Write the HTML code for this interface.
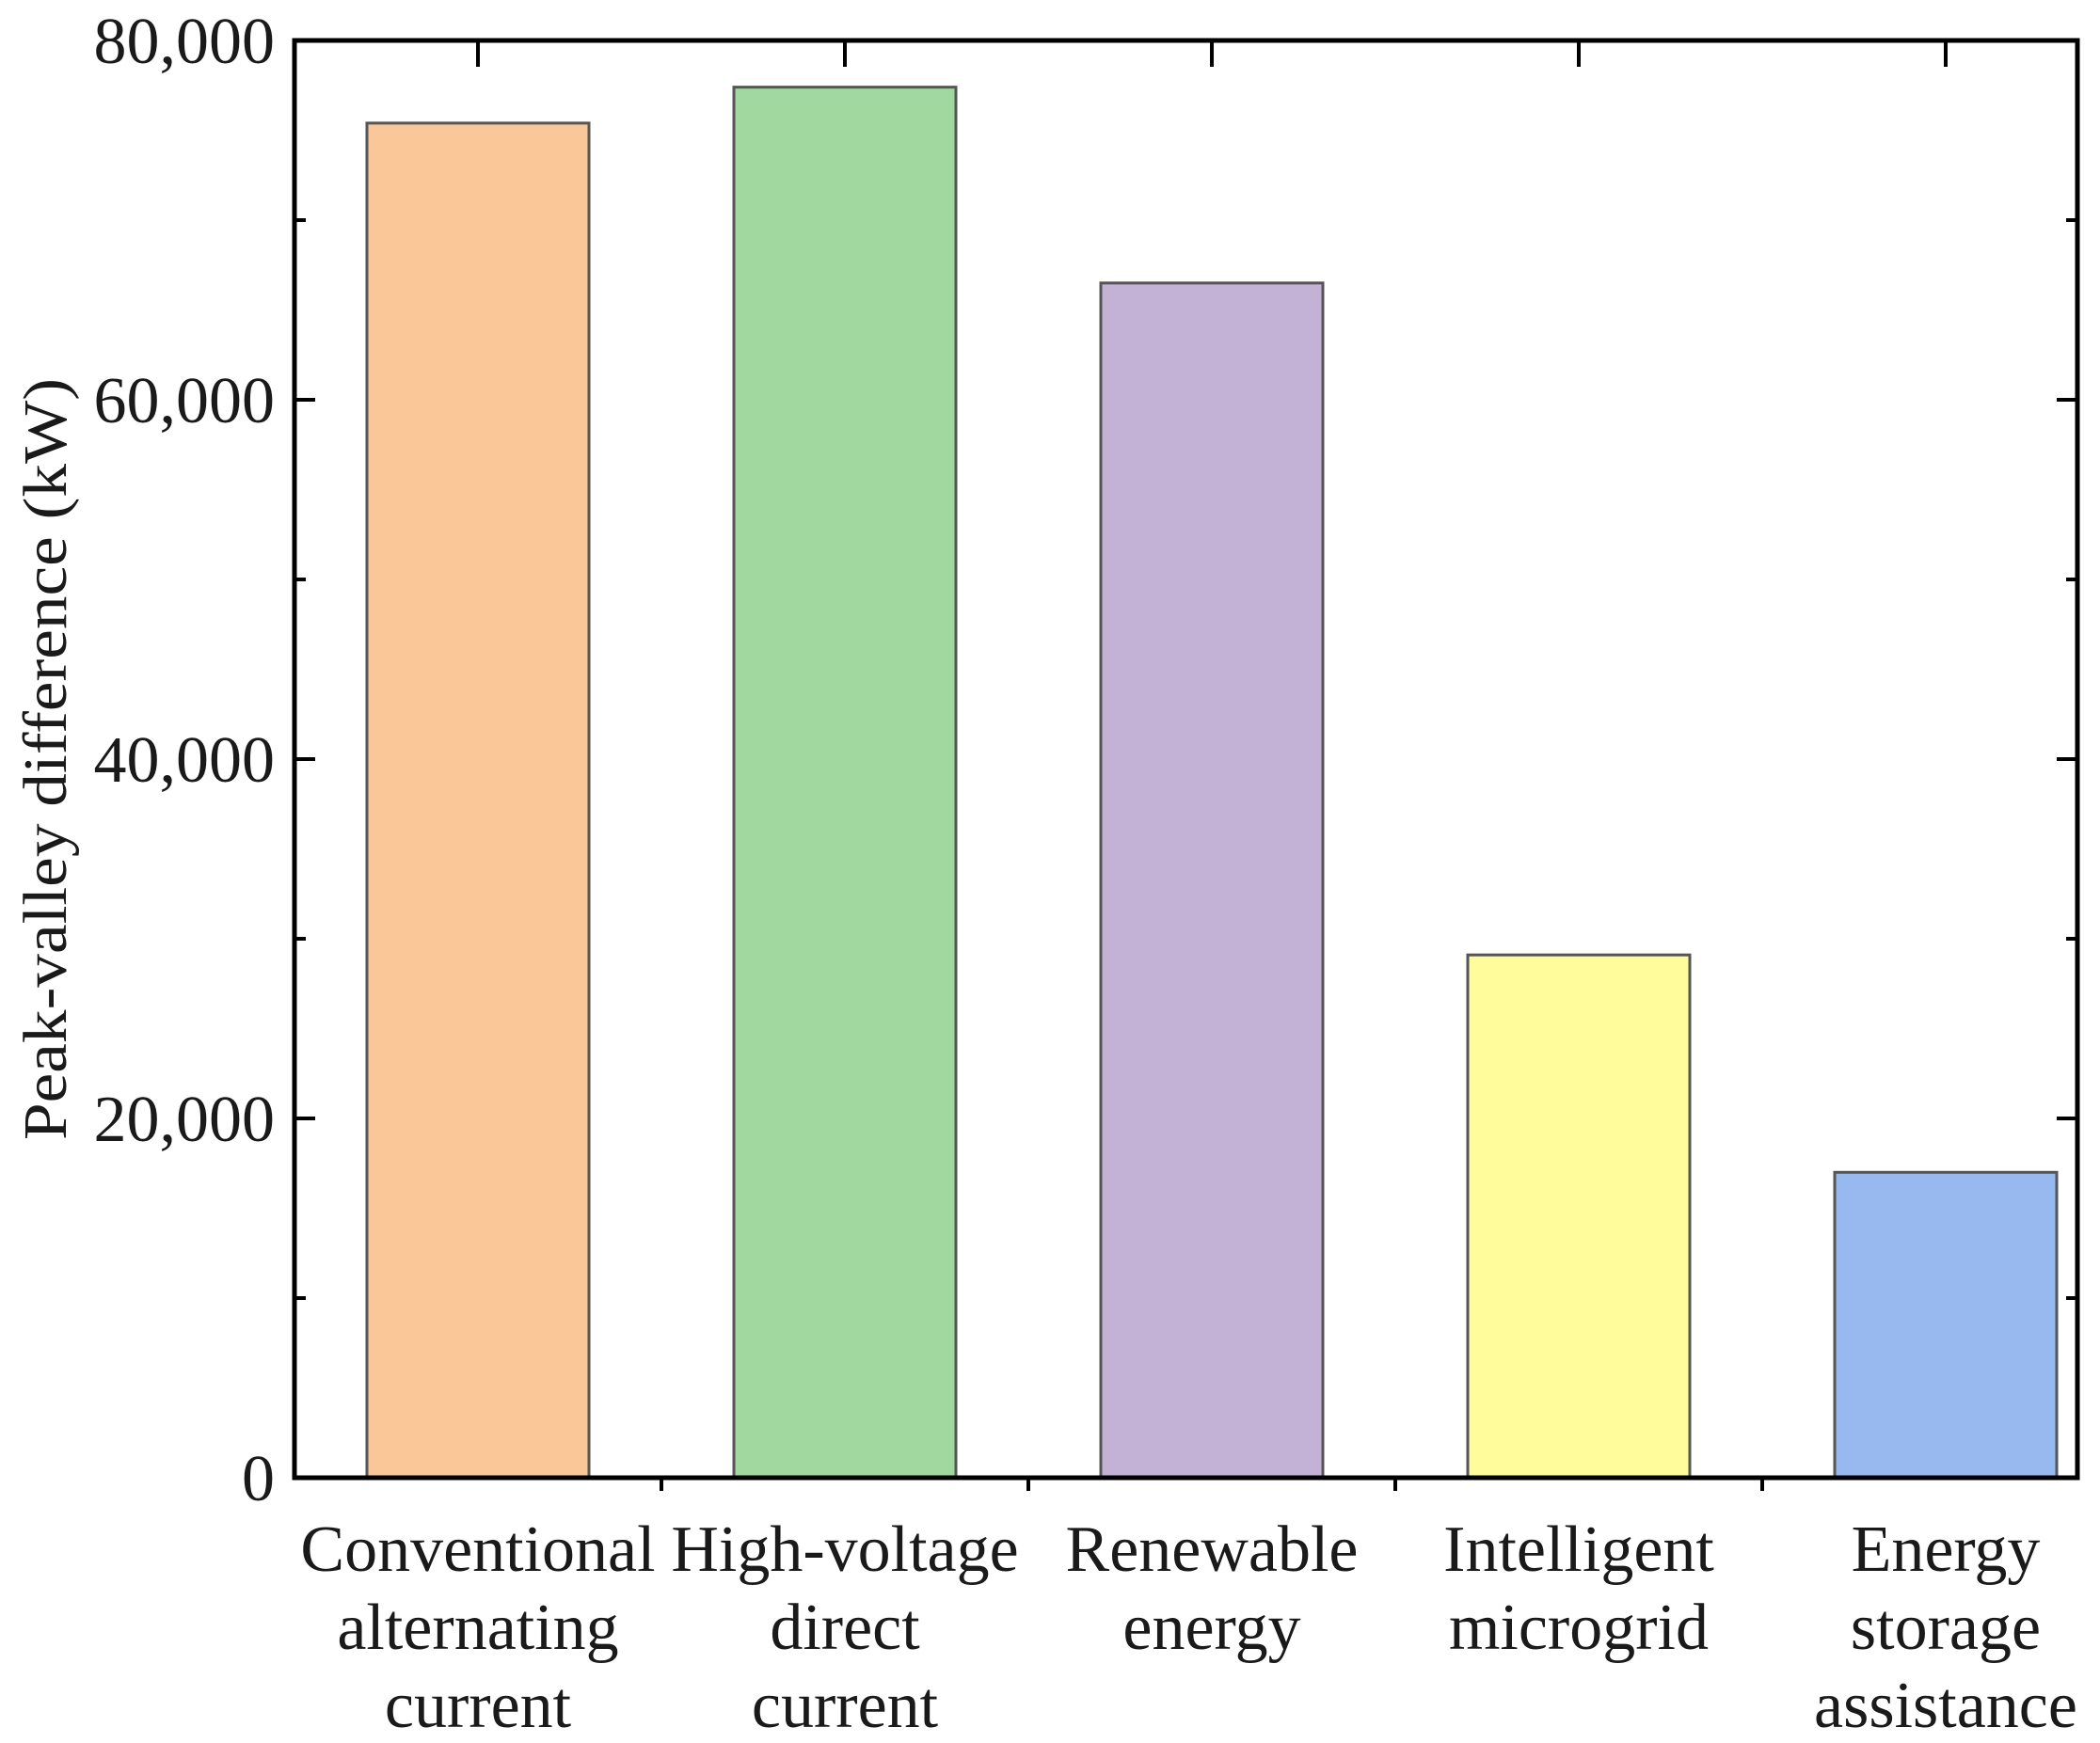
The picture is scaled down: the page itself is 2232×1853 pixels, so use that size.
<!DOCTYPE html>
<html><head><meta charset="utf-8"><style>
html,body{margin:0;padding:0;background:#fff;}
svg{display:block;font-family:"Liberation Serif",serif;}
</style></head><body>
<svg id="chart" width="2232" height="1853" viewBox="0 0 2232 1853"></svg>
<script>
const categories = [["Conventional","alternating","current"],["High-voltage","direct","current"],["Renewable","energy"],["Intelligent","microgrid"],["Energy","storage","assistance"]];
const values = [75400, 77400, 66500, 29100, 17000];
const colors = ["#FAC898","#A0D8A0","#C3B1D6","#FFFC9C","#98B8F0"];
const yTicks = [0, 20000, 40000, 60000, 80000];
const yTickLabels = ["0","20,000","40,000","60,000","80,000"];
const yMinor = [10000, 30000, 50000, 70000];

const NS="http://www.w3.org/2000/svg";
const svg=document.getElementById('chart');
const L=313,R=2208,T=43,B=1571;
const y=v=>B-(v/80000)*(B-T);
const x=i=>508+390*i;
const bw=236;
function mk(t,a){const e=document.createElementNS(NS,t);for(const k in a)e.setAttribute(k,a[k]);svg.appendChild(e);return e;}

values.forEach((v,i)=>{
  const r=mk('rect',{x:x(i)-bw/2,y:y(v),width:bw,height:B-y(v),fill:colors[i],stroke:'#555',"stroke-width":3});
  
  
  categories[i].forEach((line,j)=>{
    const t=mk('text',{x:x(i),y:1670+83*j,"text-anchor":"middle","font-size":70,fill:'#1a1a1a'});
    t.textContent=line;
    
    
  });
});
yTicks.forEach((v,i)=>{
  mk('line',{x1:L,x2:L+22,y1:y(v),y2:y(v),stroke:'#000',"stroke-width":4});
  mk('line',{x1:R,x2:R-22,y1:y(v),y2:y(v),stroke:'#000',"stroke-width":4});
  const t=mk('text',{x:292,y:y(v)+24,"text-anchor":"end","font-size":70,fill:'#1a1a1a'});
  t.textContent=yTickLabels[i];
  
  
});
yMinor.forEach(v=>{
  mk('line',{x1:L,x2:L+12,y1:y(v),y2:y(v),stroke:'#000',"stroke-width":4});
  mk('line',{x1:R,x2:R-12,y1:y(v),y2:y(v),stroke:'#000',"stroke-width":4});
});
values.forEach((v,i)=>{
  mk('line',{x1:x(i),x2:x(i),y1:T,y2:T+28,stroke:'#000',"stroke-width":4});
  if(i<values.length-1) mk('line',{x1:x(i)+195,x2:x(i)+195,y1:B,y2:B+14,stroke:'#000',"stroke-width":4});
});
const frame=mk('rect',{x:L,y:T,width:R-L,height:B-T,fill:'none',stroke:'#000',"stroke-width":5});


const yl=mk('text',{x:0,y:0,"text-anchor":"middle","font-size":66,fill:'#1a1a1a',transform:'translate(70,807) rotate(-90)',textLength:810,lengthAdjust:'spacingAndGlyphs'});
yl.textContent='Peak-valley difference (kW)';


</script>
</body></html>
